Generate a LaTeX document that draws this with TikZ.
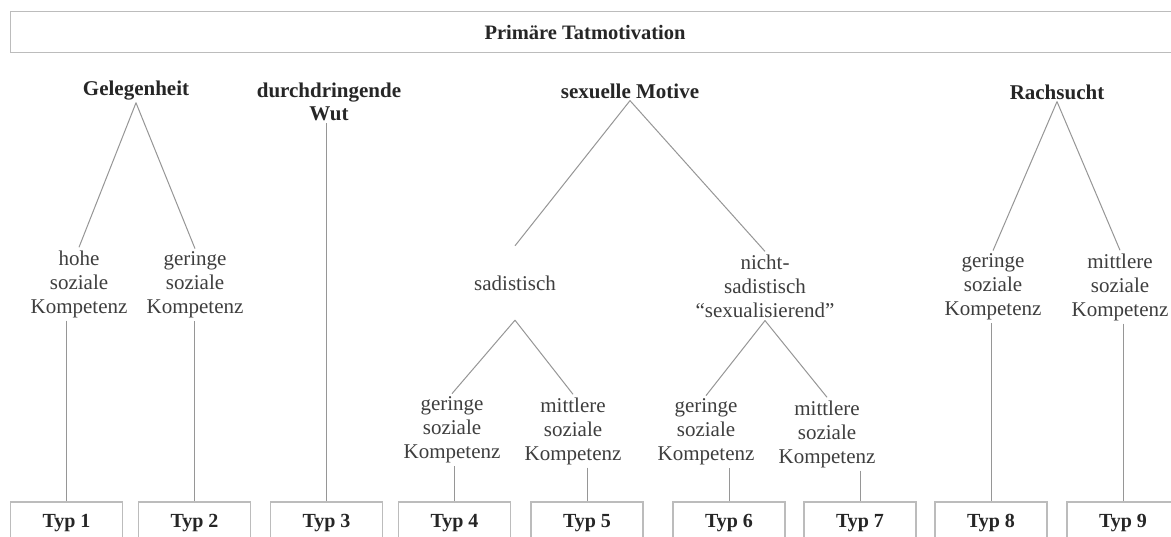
\documentclass[tikz,border=0pt]{standalone}
\usepackage{fontspec}
\setmainfont{Liberation Serif}
\usepackage{tikz}
\usetikzlibrary{positioning}

\definecolor{astgrau}{RGB}{150,150,150}
\definecolor{boxgrau}{RGB}{188,188,188}
\definecolor{textgrau}{RGB}{62,62,62}

\begin{document}
\begin{tikzpicture}[x=1pt,y=-1pt,
		motiv/.style={font=\fontsize{21}{23}\selectfont\bfseries, text=black!85, align=center, inner sep=2pt},
		kompetenz/.style={font=\fontsize{21}{24}\selectfont, text=textgrau, align=center, inner sep=3pt},
		typbox/.style={draw=boxgrau, line width=1.2pt, minimum width=112pt, minimum height=42pt,
			font=\fontsize{20}{24}\selectfont\bfseries, text=black!85},
		ast/.style={draw=astgrau, line width=1pt, line join=round}]
			\clip (0,0) rectangle (1171,537);
			\fill[white] (0,0) rectangle (1171,537);
			% title
			\node[draw=boxgrau, line width=1.2pt, minimum width=1180pt, minimum height=41pt, anchor=north west] (titelbox) at (10,11) {};
			\node[motiv, font=\fontsize{20.5}{24}\selectfont\bfseries] (titel) at (585,32) {Primäre Tatmotivation};
			% motives
			\node[motiv] (gel) at (136,91) {Gelegenheit};
			\node[motiv] (wut) at (329,102) {durchdringende\\Wut};
			\node[motiv] (sex) at (630,91) {sexuelle Motive};
			\node[motiv] (rach) at (1057,92) {Rachsucht};
			% second level
			\node[kompetenz] (hohe) at (79,284) {hohe\\soziale\\Kompetenz};
			\node[kompetenz] (ger2) at (195,285) {geringe\\soziale\\Kompetenz};
			\node[kompetenz, minimum height=74pt] (sad) at (515,283) {sadistisch};
			\node[kompetenz] (nsad) at (765,286) {nicht-\\sadistisch\\“sexualisierend”};
			\node[kompetenz] (ger8) at (993,287) {geringe\\soziale\\Kompetenz};
			\node[kompetenz] (mit9) at (1120,287) {mittlere\\soziale\\Kompetenz};
			% third level
			\node[kompetenz] (ger4) at (452,430) {geringe\\soziale\\Kompetenz};
			\node[kompetenz] (mit5) at (573,431) {mittlere\\soziale\\Kompetenz};
			\node[kompetenz] (ger6) at (706,432) {geringe\\soziale\\Kompetenz};
			\node[kompetenz] (mit7) at (827,434) {mittlere\\soziale\\Kompetenz};
			% types
			\foreach \i/\x in {1/66.5,2/194.5,3/326.5,4/454.5,5/587,6/729,7/860,8/991,9/1123} {
				\node[typbox] (typ\i) at (\x,523) {Typ \i};
			}
			% branches
			\draw[ast] (hohe.north) -- (gel.south) -- (ger2.north);
			\draw[ast] (sad.north) -- (sex.south) -- (nsad.north);
			\draw[ast] (ger4.north) -- (sad.south) -- (mit5.north);
			\draw[ast] (ger6.north) -- (nsad.south) -- (mit7.north);
			\draw[ast] (ger8.north) -- (rach.south) -- (mit9.north);
			% down to the types
			\foreach \k/\t in {hohe/1,ger2/2,wut/3,ger4/4,mit5/5,ger6/6,mit7/7,ger8/8,mit9/9} {
				\draw[ast] (typ\t.north |- \k.south) -- (typ\t.north);
			}
		\end{tikzpicture}
\end{document}
